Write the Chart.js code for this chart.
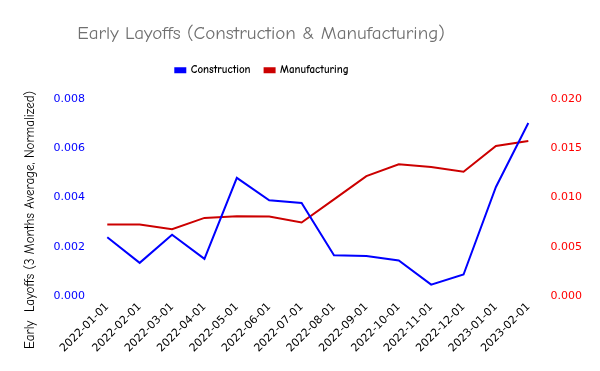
<!DOCTYPE html>
<html>
<head>
<meta charset="utf-8">
<script src="https://cdn.jsdelivr.net/npm/chart.js@4/dist/chart.umd.min.js"></script>
<style>
  html, body { margin: 0; padding: 0; background: #fff; }
  #wrap { width: 600px; height: 371px; position: relative; }
</style>
</head>
<body>
<div id="wrap"><canvas id="chartLayoffs"></canvas></div>
<script>
// ─── Data ─────────────────────────────────────────────────────────────────────
const months = [
    '2022-01-01', '2022-02-01', '2022-03-01', '2022-04-01', '2022-05-01',
    '2022-06-01', '2022-07-01', '2022-08-01', '2022-09-01', '2022-10-01',
    '2022-11-01', '2022-12-01', '2023-01-01', '2023-02-01',
];
const construction = [
    0.0024, 0.00136, 0.0025, 0.00152, 0.0048, 0.00389, 0.00378,
    0.00167, 0.00164, 0.00146, 0.00048, 0.00089, 0.00443, 0.00702,
];
const manufacturing = [
    0.00728, 0.00728, 0.0068, 0.00795, 0.00812, 0.00809, 0.00748,
    0.00982, 0.01218, 0.01337, 0.0131, 0.01262, 0.01523, 0.01574,
];
const leftTicks = [0, 0.002, 0.004, 0.006, 0.008];
const rightTicks = [0, 0.005, 0.01, 0.015, 0.02];
const yTitle = 'Early  Layoffs (3 Months Average, Normalized)';

// ─── Style ────────────────────────────────────────────────────────────────────
const comic = '"Comic Sans MS", "Comic Neue", "DejaVu Sans", sans-serif';
const plain = '"DejaVu Sans", sans-serif';
const BLUE = '#0000ff';
const RED = '#cc0000';
const HEADER_CENTER = 261; // title + legend sit left of the canvas centre
const YTITLE_CENTER = 220; // y title is centred below the plot middle

const fmt = v => Number(v).toFixed(3);
const noGrid = { display: false, drawTicks: false, tickLength: 0 };

// extra room under the legend, and shift title/legend to the header centre
const headerNudge = {
    id: 'headerNudge',
    afterInit(chart) {
        const leg = chart.legend;
        if (!leg) return;
        const fit = leg.fit;
        leg.fit = function () {
            fit.call(this);
            this.height += 13;
        };
    },
    afterLayout(chart) {
        const t = chart.titleBlock;
        if (t) t.right = 2 * HEADER_CENTER - t.left;
        const leg = chart.legend;
        if (leg) leg.right = 2 * HEADER_CENTER - leg.left + 2;
    },
    // the scale title only reserves room; draw it lower, like the original
    afterDraw(chart) {
        const s = chart.scales.y;
        const ctx = chart.ctx;
        ctx.save();
        ctx.translate(s.left + 2 + 8, YTITLE_CENTER);
        ctx.rotate(-Math.PI / 2);
        ctx.font = `13px ${comic}`;
        ctx.fillStyle = '#000';
        ctx.textAlign = 'center';
        ctx.textBaseline = 'middle';
        ctx.fillText(yTitle, 0, 0);
        ctx.restore();
    },
};

new Chart(document.getElementById('chartLayoffs'), {
    type: 'line',
    data: {
        labels: months,
        datasets: [
            {
                label: 'Construction',
                data: construction,
                borderColor: BLUE,
                backgroundColor: BLUE,
                borderWidth: 2,
                pointRadius: 0,
                tension: 0,
                yAxisID: 'y',
            },
            {
                label: 'Manufacturing',
                data: manufacturing,
                borderColor: RED,
                backgroundColor: RED,
                borderWidth: 2,
                pointRadius: 0,
                tension: 0,
                yAxisID: 'y1',
            },
        ],
    },
    options: {
        responsive: true,
        maintainAspectRatio: false,
        animation: false,
        layout: { padding: { left: 20, right: 12, top: 0, bottom: 12 } },
        plugins: {
            title: {
                display: true,
                text: 'Early Layoffs (Construction & Manufacturing)',
                color: '#707070',
                font: { family: comic, size: 19, weight: 'normal' },
                padding: { top: 22, bottom: 6 },
            },
            legend: {
                labels: {
                    color: '#000',
                    font: { family: comic, size: 11, weight: 'bold' },
                    boxWidth: 10,
                    boxHeight: 4,
                    padding: 14,
                },
            },
            tooltip: { enabled: false },
        },
        scales: {
            x: {
                offset: true,
                grid: noGrid,
                border: { display: false },
                ticks: {
                    color: '#000',
                    font: { family: plain, size: 11 },
                    minRotation: 45,
                    maxRotation: 45,
                    autoSkip: false,
                    padding: 4,
                },
            },
            y: {
                position: 'left',
                min: 0,
                max: 0.008,
                afterBuildTicks: axis => { axis.ticks = leftTicks.map(v => ({ value: v })); },
                grid: noGrid,
                border: { display: false },
                ticks: {
                    color: BLUE,
                    font: { family: plain, size: 11 },
                    callback: fmt,
                    padding: 6,
                },
                title: {
                    display: true,
                    text: yTitle,
                    color: 'rgba(0,0,0,0)',
                    font: { family: comic, size: 13 },
                    padding: { top: 2, bottom: 10 },
                },
            },
            y1: {
                position: 'right',
                min: 0,
                max: 0.02,
                afterBuildTicks: axis => { axis.ticks = rightTicks.map(v => ({ value: v })); },
                grid: noGrid,
                border: { display: false },
                ticks: {
                    color: '#ff0000',
                    font: { family: plain, size: 11 },
                    callback: fmt,
                    padding: 6,
                },
            },
        },
    },
    plugins: [headerNudge],
});
</script>
</body>
</html>
